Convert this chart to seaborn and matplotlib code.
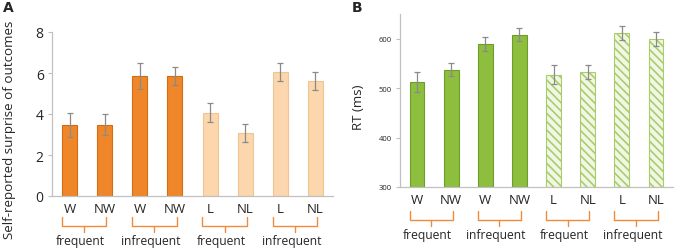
import matplotlib
matplotlib.use("Agg")
import matplotlib.pyplot as plt
import matplotlib.transforms as mtransforms
import seaborn as sns
import pandas as pd
import numpy as np

# data
cond_ids = ["fW", "fNW", "iW", "iNW", "fL", "fNL", "iL", "iNL"]
tick_labels = ["W", "NW", "W", "NW", "L", "NL", "L", "NL"]
group_labels = ["frequent", "infrequent", "frequent", "infrequent"]

surprise = [3.48, 3.48, 5.85, 5.85, 4.07, 3.07, 6.05, 5.60]
surprise_err = [0.58, 0.52, 0.62, 0.43, 0.48, 0.45, 0.42, 0.45]

rt = [513, 537, 590, 608, 527, 532, 612, 600]
rt_err = [20, 13, 14, 13, 19, 14, 14, 14]

sns.set_style("white")
plt.rcParams["font.family"] = ["Open Sans", "DejaVu Sans"]
plt.rcParams["hatch.linewidth"] = 1.2

fig = plt.figure(figsize=(6.8, 2.51), dpi=100)
axA = fig.add_axes([52 / 680, 54 / 251, 281 / 680, 164 / 251])
axB = fig.add_axes([400 / 680, 63 / 251, 273 / 680, 173 / 251])

brace_col = "#F08A3C"


def draw_panel(ax, vals, errs, solid, solid_edge, light, light_edge, hatch, ylim, yticks,
               tick_fs, ylabel, ylab_fs, ylab_xy, br):
    df = pd.DataFrame({"cond": cond_ids, "val": vals})
    sns.barplot(data=df, x="cond", y="val", order=cond_ids, width=0.43,
                color=solid, errorbar=None, ax=ax)
    for i, p in enumerate(ax.patches):
        if i < 4:
            p.set_facecolor(solid)
            p.set_edgecolor(solid_edge)
        else:
            p.set_facecolor(light)
            p.set_edgecolor(light_edge)
            if hatch:
                p.set_hatch(hatch)
        p.set_linewidth(0.8)
        # bottom should sit on the lower y limit
        p.set_y(ylim[0])
        p.set_height(vals[i] - ylim[0])
    ax.errorbar(np.arange(8), vals, yerr=errs, fmt="none", ecolor="#8a8a8a",
                elinewidth=0.9, capsize=2.2, capthick=0.9)
    ax.set_ylim(*ylim)
    ax.set_xlim(-0.5, 7.5)
    ax.set_yticks(yticks)
    ax.set_xticks(range(8))
    ax.set_xticklabels(tick_labels, fontsize=9.5)
    ax.tick_params(axis="x", length=0, pad=br[0])
    ax.tick_params(axis="y", length=3, width=0.8, color="#bfbfbf", labelsize=tick_fs,
                   direction="out", pad=3, left=True)
    ax.set_xlabel("")
    ax.set_ylabel(ylabel, fontsize=ylab_fs)
    ax.yaxis.set_label_coords(*ylab_xy)
    for s in ["top", "right"]:
        ax.spines[s].set_visible(False)
    for s in ["left", "bottom"]:
        ax.spines[s].set_color("#c0c0c0")
        ax.spines[s].set_linewidth(0.9)
    trans = mtransforms.blended_transform_factory(ax.transData, ax.transAxes)
    y_top, y_mid, y_end, y_lab = br[1:]
    for g in range(4):
        x0 = 2 * g - 0.22
        x1 = 2 * g + 1.05
        xm = (x0 + x1) / 2
        ax.plot([x0, x0, x1, x1], [y_top, y_mid, y_mid, y_top], color=brace_col,
                lw=1.0, transform=trans, clip_on=False)
        ax.plot([xm, xm], [y_mid, y_end], color=brace_col, lw=1.0,
                transform=trans, clip_on=False)
        ax.text(xm - 0.1, y_lab, group_labels[g], transform=trans, ha="center",
                va="center", fontsize=8.7)


draw_panel(axA, surprise, surprise_err, "#F0862A", "#D26D14", "#FCD6AC", "#F0C594", None,
           (0, 8), [0, 2, 4, 6, 8], 10, "Self-reported surprise of outcomes", 9.6,
           (-0.128, 0.41),
           (4, -21 / 164, -30 / 164, -36 / 164, -45 / 164))
draw_panel(axB, rt, rt_err, "#8DBE3E", "#6F9C28", "#F1F7E4", "#A9CC6C", "\\\\\\\\",
           (300, 650), [300, 400, 500, 600], 5.5, "RT (ms)", 9.5,
           (-0.13, 0.468),
           (4, -24 / 173, -33 / 173, -39 / 173, -48 / 173))

fig.text(3 / 680, 1 - 8 / 251, "A", fontsize=10, fontweight="bold", va="center",
         family=["DejaVu Sans"])
fig.text(352 / 680, 1 - 8 / 251, "B", fontsize=10, fontweight="bold", va="center",
         family=["DejaVu Sans"])

fig.savefig("out.png", dpi=100)
